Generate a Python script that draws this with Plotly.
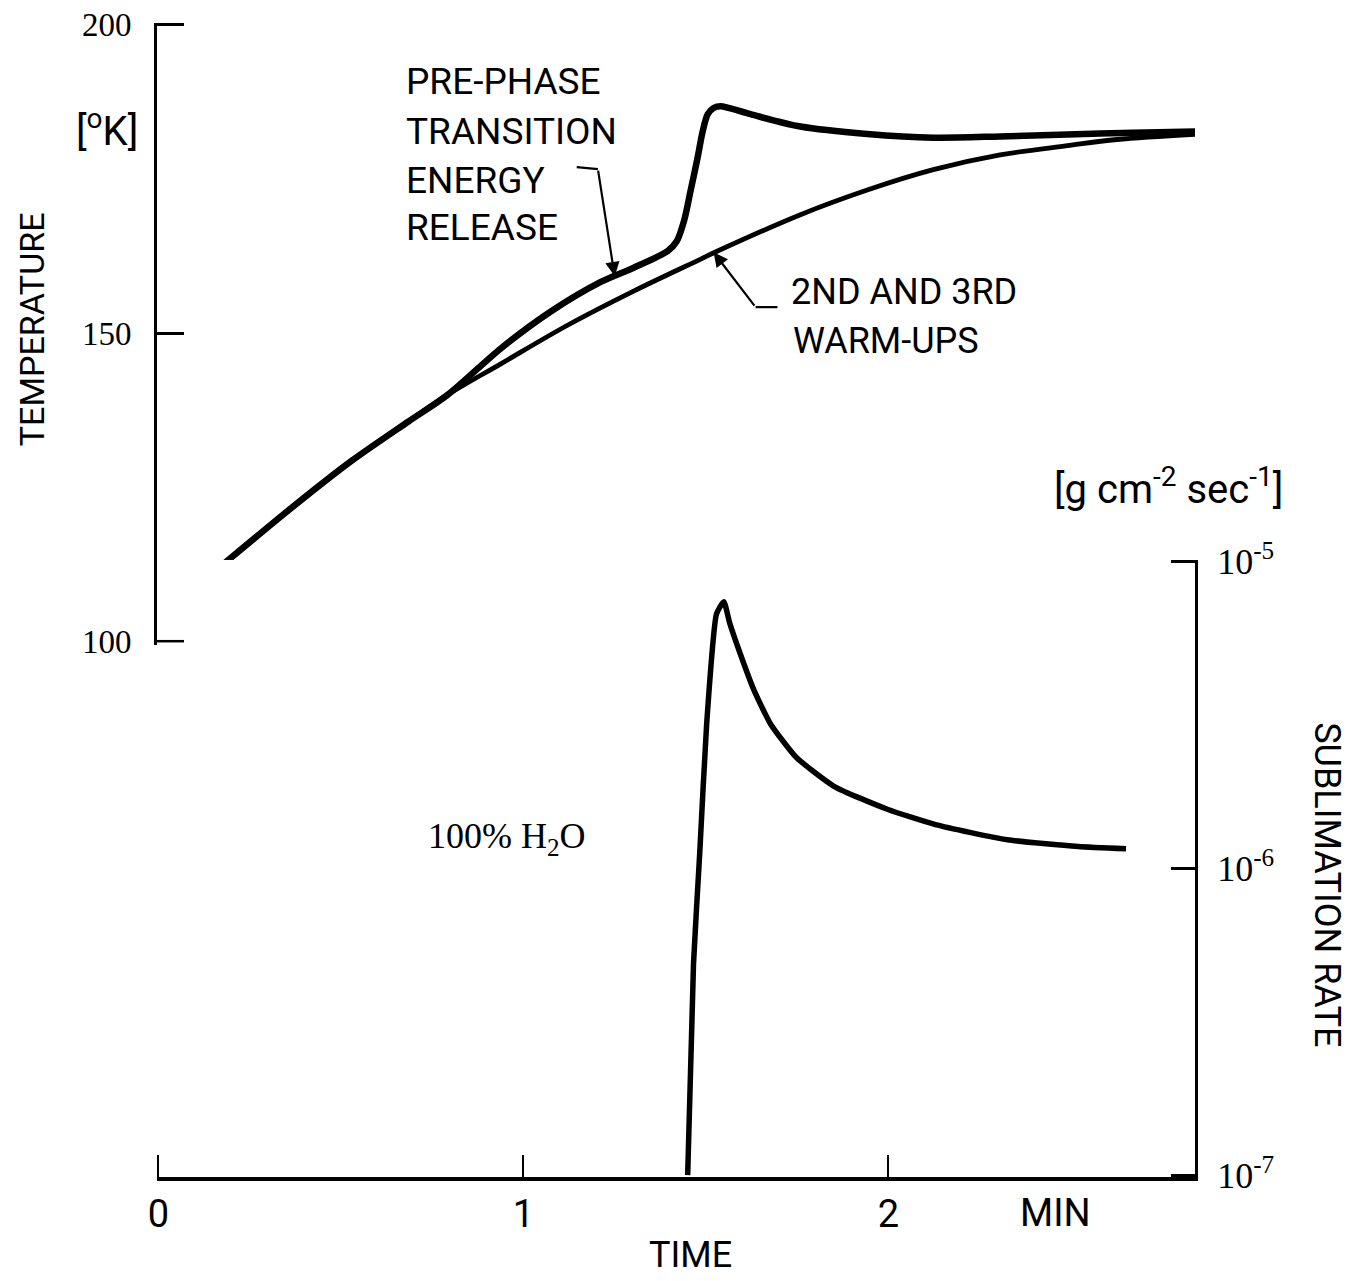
import plotly.graph_objects as go

FONT = "Roboto, Liberation Sans, DejaVu Sans, sans-serif"
SERIF = "Liberation Serif, DejaVu Serif, serif"

# ---- data ----
# First warm-up: temperature [K] vs time [min] (shows pre-phase transition energy release)
time_first = [0.18, 0.364, 0.528, 0.684, 0.793, 0.938, 1.075, 1.212, 1.302, 1.395,
              1.42, 1.44, 1.458, 1.477, 1.491, 1.505, 1.521, 1.54, 1.622, 1.759,
              1.942, 2.123, 2.306, 2.49, 2.67, 2.854]
temp_first = [112.6, 121.6, 129.2, 135.6, 140.0, 147.5, 153.5, 158.3, 160.6, 163.3,
              164.9, 168.2, 173.1, 178.4, 182.7, 185.5, 186.5, 186.8, 185.5, 183.5,
              182.3, 181.7, 181.9, 182.2, 182.5, 182.7]

# 2nd and 3rd warm-ups
time_later = [0.18, 0.364, 0.528, 0.684, 0.793, 0.938, 1.122, 1.302, 1.486,
              1.532, 1.759, 1.942, 2.123, 2.306, 2.49, 2.626, 2.854]
temp_later = [112.6, 121.6, 129.2, 135.6, 140.0, 145.0, 151.3, 156.8, 162.0,
              163.3, 169.2, 173.2, 176.5, 178.9, 180.4, 181.4, 182.3]

# Sublimation rate [g cm^-2 sec^-1], 100% H2O
time_sub = [1.450, 1.466, 1.483, 1.502, 1.529, 1.549, 1.565, 1.592, 1.631, 1.677,
            1.748, 1.852, 1.997, 2.129, 2.326, 2.52, 2.651]
rate_sub = [1.0e-7, 4.9e-7, 1.12e-6, 2.96e-6, 6.76e-6, 7.41e-6, 6.32e-6, 5.09e-6,
            3.83e-6, 2.96e-6, 2.30e-6, 1.85e-6, 1.56e-6, 1.39e-6, 1.24e-6, 1.18e-6, 1.16e-6]

time_ticks = [0, 1, 2]
time_ticklabels = ["0", "1", "2"]
temp_ticks = [100, 150, 200]
temp_ticklabels = ["100", "150", "200"]
rate_ticks = [1e-7, 1e-6, 1e-5]
rate_ticklabels = ["10<sup>-7</sup>", "10<sup>-6</sup>", "10<sup>-5</sup>"]

fig = go.Figure()
fig.add_trace(go.Scatter(x=time_first, y=temp_first, mode="lines",
                         line=dict(color="black", width=6.5, shape="spline", smoothing=0.8),
                         xaxis="x", yaxis="y", showlegend=False))
fig.add_trace(go.Scatter(x=time_later, y=temp_later, mode="lines",
                         line=dict(color="black", width=4.8, shape="spline", smoothing=1.0),
                         xaxis="x", yaxis="y", showlegend=False))
fig.add_trace(go.Scatter(x=time_sub, y=rate_sub, mode="lines",
                         line=dict(color="black", width=5.5, shape="spline", smoothing=0.5),
                         xaxis="x", yaxis="y2", showlegend=False))

ann = []
def txt(text, x, y, xref="x", yref="y", size=36, xanchor="center", yanchor="middle", angle=0, font=FONT):
    ann.append(dict(text=text, x=x, y=y, xref=xref, yref=yref, showarrow=False,
                    xanchor=xanchor, yanchor=yanchor, textangle=angle,
                    font=dict(family=font, size=size, color="black")))

# pre-phase label
for line, yy in zip(["PRE-PHASE", "TRANSITION", "ENERGY", "RELEASE"], [190.8, 182.7, 174.8, 167.1]):
    txt(line, 0.672, yy, xanchor="left", size=37)
# arrow to first warm-up curve
ann.append(dict(x=1.250, y=159.2, ax=1.204, ay=176.6, xref="x", yref="y", axref="x", ayref="y",
                text="", showarrow=True, arrowhead=2, arrowsize=1.3, arrowwidth=2.2, arrowcolor="black"))

txt("2ND AND 3RD", 1.727, 156.6, xanchor="left", size=36)
txt("WARM-UPS", 1.733, 148.7, xanchor="left", size=36)
ann.append(dict(x=1.521, y=163.1, ax=1.636, ay=154.2, xref="x", yref="y", axref="x", ayref="y",
                text="", showarrow=True, arrowhead=2, arrowsize=1.3, arrowwidth=2.2, arrowcolor="black"))

shapes = [
    dict(type="line", xref="x", yref="y", x0=1.146, y0=176.9, x1=1.204, y1=176.6,
         line=dict(color="black", width=2.2)),
    dict(type="line", xref="x", yref="y", x0=1.636, y0=154.2, x1=1.696, y1=154.2,
         line=dict(color="black", width=2.2)),
    # bottom temperature tick (plotly drops the inside tick at the domain end)
    dict(type="line", xref="x", yref="y", x0=-0.004, y0=temp_ticks[0], x1=0.07, y1=temp_ticks[0],
         line=dict(color="black", width=2.5)),
]

txt("100% H<sub>2</sub>O", 0.955, -5.903, yref="y2", size=36, font=SERIF)

# axis titles / units
txt("TEMPERATURE", -0.121, 0.735, xref="paper", yref="paper", size=34, angle=-90)
txt("[<sup>o</sup>K]", -0.048, 0.909, xref="paper", yref="paper", size=40)
txt("SUBLIMATION RATE", 1.127, 0.253, xref="paper", yref="paper", size=36, angle=90)
txt("[g cm<sup>-2</sup> sec<sup>-1</sup>]", 0.974, 0.598, xref="paper", yref="paper", size=40)
txt("TIME", 0.5135, -0.0676, xref="paper", yref="paper", size=36)
txt("MIN", 2.457, -0.031, yref="paper", size=38)

# the page body has an 8 px margin, so the figure is sized and offset to compensate
fig.update_layout(
    width=1344, height=1273,
    margin=dict(l=149, r=157, t=15, b=104, autoexpand=False),
    paper_bgcolor="white", plot_bgcolor="white",
    font=dict(family=FONT, color="black"),
    annotations=ann, shapes=shapes,
    xaxis=dict(domain=[0, 1], range=[-0.004, 2.84], anchor="y2",
               showline=True, linecolor="black", linewidth=4,
               ticks="inside", ticklen=22, tickwidth=2, tickcolor="black",
               tickvals=time_ticks, ticktext=time_ticklabels,
               tickfont=dict(family=FONT, size=38), ticklabelstandoff=0,
               ticklabeloverflow="allow",
               showgrid=False, zeroline=False),
    yaxis=dict(domain=[0.4611, 1], range=[99.4, 200.3], anchor="x",
               showline=True, linecolor="black", linewidth=3,
               ticks="inside", ticklen=27, tickwidth=2.5, tickcolor="black",
               tickvals=temp_ticks, ticktext=temp_ticklabels,
               tickfont=dict(family=SERIF, size=33), ticklabelstandoff=16,
               ticklabeloverflow="allow",
               showgrid=False, zeroline=False),
    yaxis2=dict(domain=[0, 0.5347], type="log", range=[-7.006, -4.994], anchor="x", side="right",
                showline=True, linecolor="black", linewidth=3,
                ticks="inside", ticklen=24, tickwidth=2.5, tickcolor="black",
                tickvals=rate_ticks, ticktext=rate_ticklabels,
                tickfont=dict(family=SERIF, size=36), ticklabelstandoff=12,
                ticklabeloverflow="allow",
                showgrid=False, zeroline=False),
)

fig.write_html("out.html")
